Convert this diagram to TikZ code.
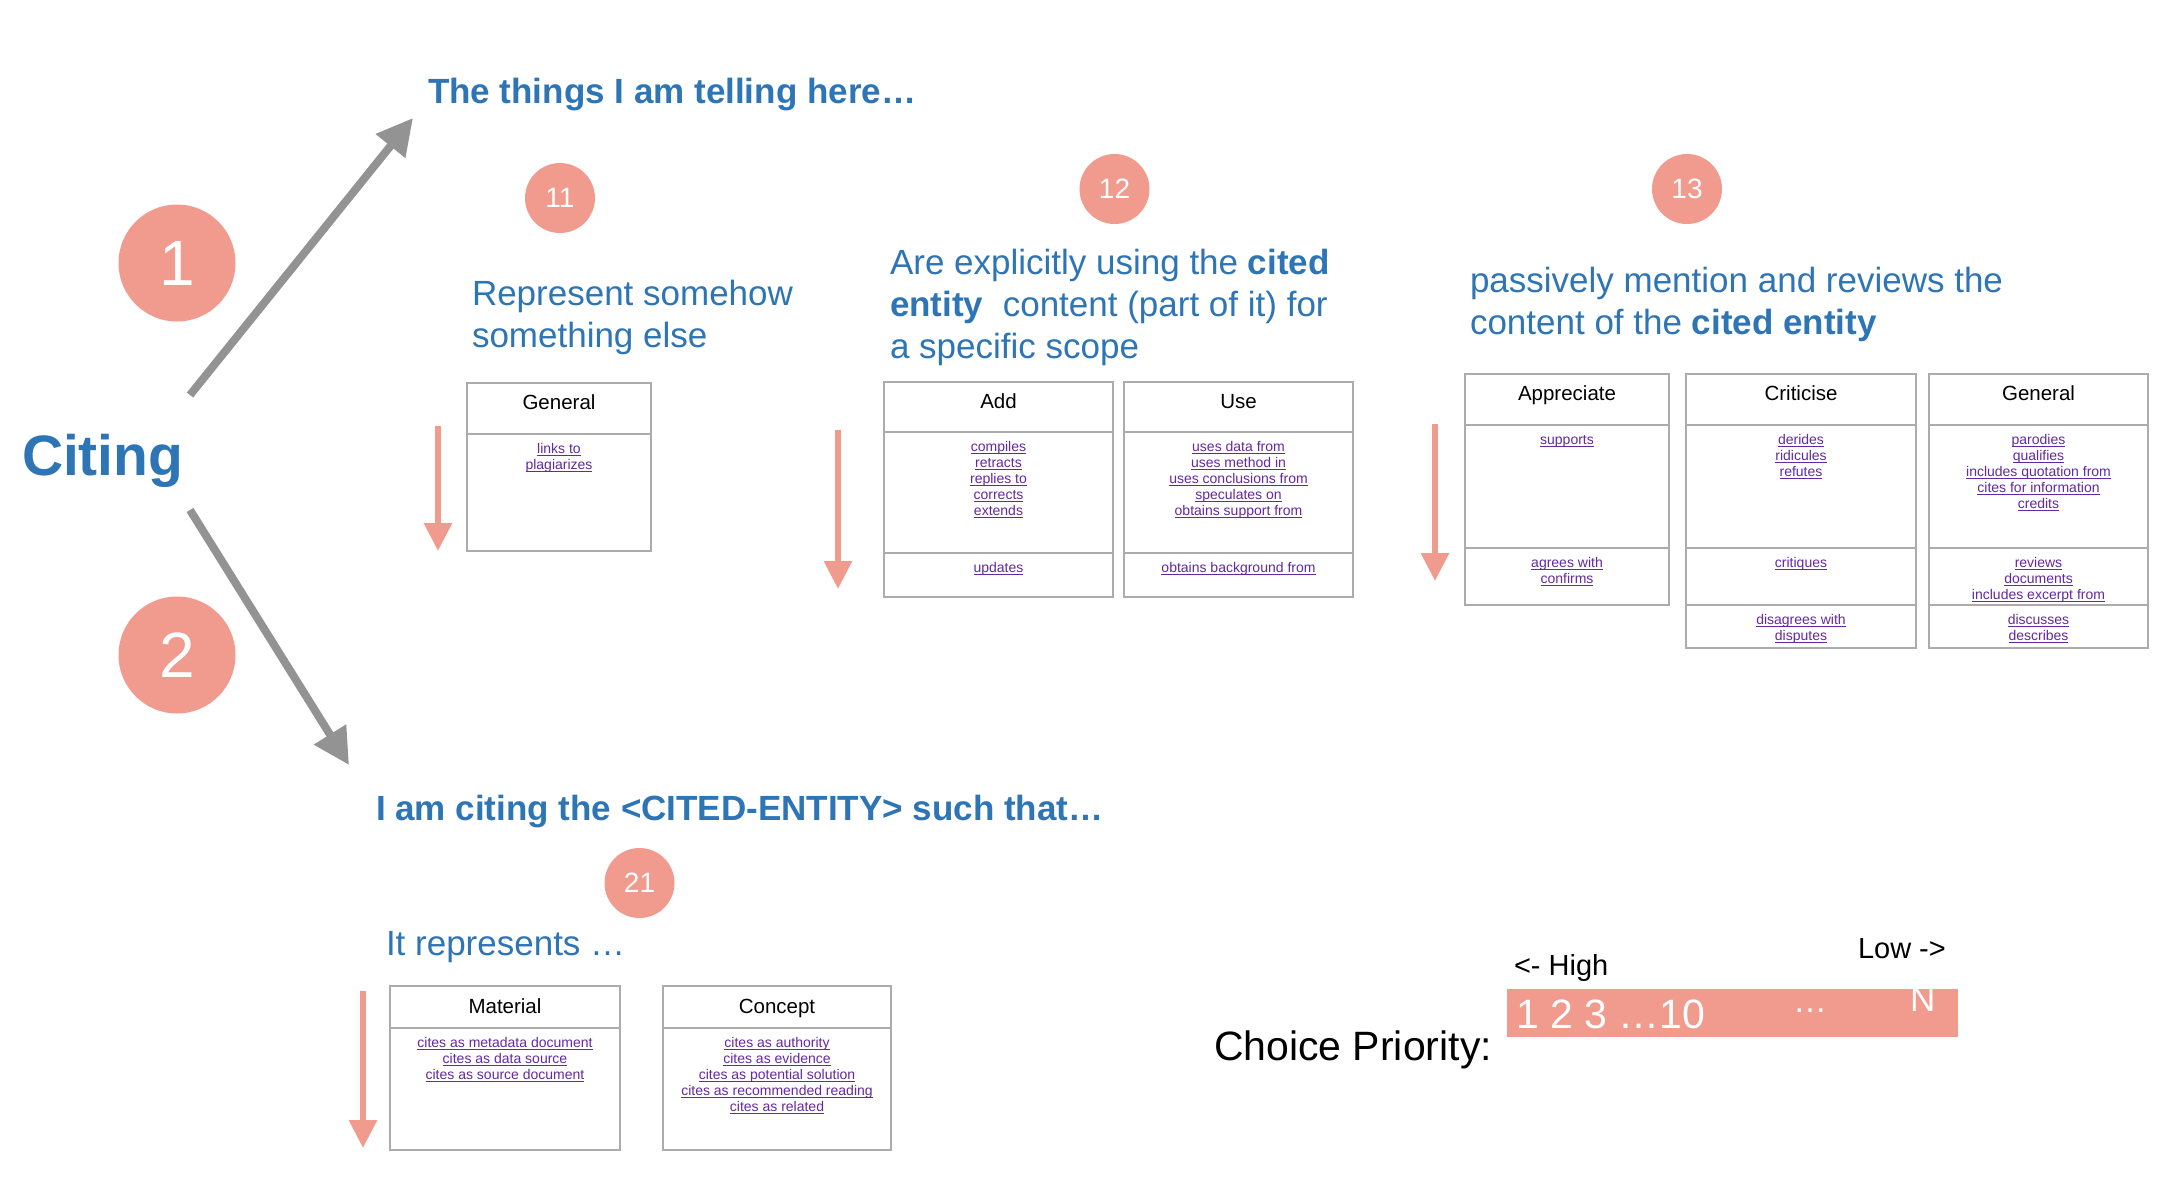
\documentclass[tikz,border=0pt]{standalone}
\usepackage{fontspec}
\setmainfont{Liberation Sans}
\usetikzlibrary{arrows.meta}
\definecolor{cblue}{RGB}{46,117,182}
\definecolor{cpink}{RGB}{241,155,143}
\definecolor{cgray}{RGB}{147,147,147}
\definecolor{clink}{RGB}{100,40,160}
\definecolor{cborder}{RGB}{172,172,172}
\newcommand{\fs}[2]{\fontsize{#1}{#2}\selectfont}
\newcommand{\lk}[1]{\strut\setbox0\hbox{#1}\rlap{\rule[-2.2pt]{\wd0}{0.9pt}}\box0}
\begin{document}
\begin{tikzpicture}[x=1pt,y=-1pt,
  every node/.style={inner sep=0pt, outer sep=0pt},
  headtxt/.style={anchor=base west, text=cblue, font=\fs{35}{42}\bfseries},
  bodytxt/.style={anchor=north west, text=cblue, font=\fs{35}{42}, align=left},
  bigcirc/.style={circle, fill=cpink, minimum size=117pt, text=white, font=\fs{64}{70}},
  smallcirc/.style={circle, fill=cpink, minimum size=70pt, text=white, font=\fs{28}{30}},
  cell/.style={draw=cborder, line width=1.1pt, anchor=north west},
  hdr/.style={anchor=base, font=\fs{20.5}{24}},
  lnk/.style={anchor=north, align=center, text=clink, font=\fs{14}{16}},
  grayarrow/.style={draw=cgray, line width=8pt, -{Triangle[length=36pt,width=36pt]}},
  redarrow/.style={draw=cpink, line width=6pt, -{Triangle[length=28pt,width=27pt]}},
  plain/.style={anchor=base west, font=\fs{29}{34}}
]
\fill[white] (0,0) rectangle (2180,1188);
\useasboundingbox (0,0) rectangle (2180,1188);

% left part
\node[anchor=base west, text=cblue, font=\fs{57}{64}\bfseries] (citing) at (22,475) {Citing};
\node[bigcirc] (c1) at (177,263) {1};
\node[bigcirc] (c2) at (177,655) {2};
\coordinate (s1) at (190,395);
\coordinate (e1) at (413,118);
\coordinate (s2) at (190,510);
\coordinate (e2) at (349,765);
\draw[grayarrow] (s1) -- (e1);
\draw[grayarrow] (s2) -- (e2);

% headings
\node[headtxt] (things) at (428,104) {The things I am telling here…};
\node[headtxt] (iam) at (376,820) {I am citing the <CITED-ENTITY> such that…};

% circles
\node[smallcirc] (c11) at (560,198) {11};
\node[smallcirc] (c12) at (1114.5,189) {12};
\node[smallcirc] (c13) at (1687,189) {13};
\node[smallcirc] (c21) at (639.5,883) {21};

% body texts
\node[bodytxt] (t11) at (472,276.3) {\strut Represent somehow\\something else};
\node[bodytxt] (t12) at (890,244.6) {\strut Are explicitly using the \textbf{cited}\\\textbf{entity}\ \ content (part of it) for\\a specific scope};
\node[bodytxt] (t13) at (1470,262.6) {\strut passively mention and reviews the\\content of the \textbf{cited entity}};
\node[bodytxt] (t21) at (386,926.3) {\strut It represents …};

% red arrows
\coordinate (r11s) at (438,426); \coordinate (r11e) at (438,551);
\coordinate (r12s) at (838,430); \coordinate (r12e) at (838,589);
\coordinate (r13s) at (1435,424); \coordinate (r13e) at (1435,581);
\coordinate (r21s) at (363,991); \coordinate (r21e) at (363,1148);
\draw[redarrow] (r11s) -- (r11e);
\draw[redarrow] (r12s) -- (r12e);
\draw[redarrow] (r13s) -- (r13e);
\draw[redarrow] (r21s) -- (r21e);

% table 11: General
\node[cell, minimum width=184pt, minimum height=51pt] (g11a) at (467,383) {};
\node[cell, minimum width=184pt, minimum height=117pt] (g11b) at (467,434) {};
\node[hdr] (g11h) at ([yshift=-26.5pt]g11a.north) {General};
\node[lnk] (g11l) at ([yshift=-8pt]g11b.north) {\lk{links to}\\\lk{plagiarizes}};

% table 12: Add / Use
\node[cell, minimum width=229pt, minimum height=50pt] (adda) at (884,382) {};
\node[cell, minimum width=229pt, minimum height=121pt] (addb) at (884,432) {};
\node[cell, minimum width=229pt, minimum height=44pt] (addc) at (884,553) {};
\node[hdr] (addh) at ([yshift=-26.5pt]adda.north) {Add};
\node[lnk] (addl) at ([yshift=-8pt]addb.north) {\lk{compiles}\\\lk{retracts}\\\lk{replies to}\\\lk{corrects}\\\lk{extends}};
\node[lnk] (addm) at ([yshift=-8pt]addc.north) {\lk{updates}};

\node[cell, minimum width=229pt, minimum height=50pt] (usea) at (1124,382) {};
\node[cell, minimum width=229pt, minimum height=121pt] (useb) at (1124,432) {};
\node[cell, minimum width=229pt, minimum height=44pt] (usec) at (1124,553) {};
\node[hdr] (useh) at ([yshift=-26.5pt]usea.north) {Use};
\node[lnk] (usel) at ([yshift=-8pt]useb.north) {\lk{uses data from}\\\lk{uses method in}\\\lk{uses conclusions from}\\\lk{speculates on}\\\lk{obtains support from}};
\node[lnk] (usem) at ([yshift=-8pt]usec.north) {\lk{obtains background from}};

% table 13: Appreciate / Criticise / General
\node[cell, minimum width=204pt, minimum height=51pt] (appa) at (1465,374) {};
\node[cell, minimum width=204pt, minimum height=123pt] (appb) at (1465,425) {};
\node[cell, minimum width=204pt, minimum height=57pt] (appc) at (1465,548) {};
\node[hdr] (apph) at ([yshift=-26.5pt]appa.north) {Appreciate};
\node[lnk] (appl) at ([yshift=-8pt]appb.north) {\lk{supports}};
\node[lnk] (appm) at ([yshift=-8pt]appc.north) {\lk{agrees with}\\\lk{confirms}};

\node[cell, minimum width=230pt, minimum height=51pt] (cria) at (1686,374) {};
\node[cell, minimum width=230pt, minimum height=123pt] (crib) at (1686,425) {};
\node[cell, minimum width=230pt, minimum height=57pt] (cric) at (1686,548) {};
\node[cell, minimum width=230pt, minimum height=43pt] (crid) at (1686,605) {};
\node[hdr] (crih) at ([yshift=-26.5pt]cria.north) {Criticise};
\node[lnk] (cril) at ([yshift=-8pt]crib.north) {\lk{derides}\\\lk{ridicules}\\\lk{refutes}};
\node[lnk] (crim) at ([yshift=-8pt]cric.north) {\lk{critiques}};
\node[lnk] (crin) at ([yshift=-8pt]crid.north) {\lk{disagrees with}\\\lk{disputes}};

\node[cell, minimum width=219pt, minimum height=51pt] (gena) at (1929,374) {};
\node[cell, minimum width=219pt, minimum height=123pt] (genb) at (1929,425) {};
\node[cell, minimum width=219pt, minimum height=57pt] (genc) at (1929,548) {};
\node[cell, minimum width=219pt, minimum height=43pt] (gend) at (1929,605) {};
\node[hdr] (genh) at ([yshift=-26.5pt]gena.north) {General};
\node[lnk] (genl) at ([yshift=-8pt]genb.north) {\lk{parodies}\\\lk{qualifies}\\\lk{includes quotation from}\\\lk{cites for information}\\\lk{credits}};
\node[lnk] (genm) at ([yshift=-8pt]genc.north) {\lk{reviews}\\\lk{documents}\\\lk{includes excerpt from}};
\node[lnk] (genn) at ([yshift=-8pt]gend.north) {\lk{discusses}\\\lk{describes}};

% table 21: Material / Concept
\node[cell, minimum width=230pt, minimum height=42pt] (mata) at (390,986) {};
\node[cell, minimum width=230pt, minimum height=122pt] (matb) at (390,1028) {};
\node[hdr] (math) at ([yshift=-27pt]mata.north) {Material};
\node[lnk] (matl) at ([yshift=-8pt]matb.north) {\lk{cites as metadata document}\\\lk{cites as data source}\\\lk{cites as source document}};

\node[cell, minimum width=228pt, minimum height=42pt] (cona) at (663,986) {};
\node[cell, minimum width=228pt, minimum height=122pt] (conb) at (663,1028) {};
\node[hdr] (conh) at ([yshift=-27pt]cona.north) {Concept};
\node[lnk] (conl) at ([yshift=-8pt]conb.north) {\lk{cites as authority}\\\lk{cites as evidence}\\\lk{cites as potential solution}\\\lk{cites as recommended reading}\\\lk{cites as related}};

% choice priority
\node[anchor=base west, font=\fs{41}{46}] (choice) at (1214,1060) {Choice Priority:};
\node[fill=cpink, anchor=north west, minimum width=451pt, minimum height=48pt] (bar) at (1507,989) {};
\node[anchor=base west, text=white, font=\fs{41}{46}] (nums) at (1516,1028) {1 2 3 …10};
\node[anchor=base west, text=white, font=\fs{34}{40}] (dots) at (1793,1012) {…};
\node[anchor=base west, text=white, font=\fs{35}{40}] (nn) at (1910,1011) {N};
\node[plain] (high) at (1514,975) {<- High};
\node[plain] (low) at (1858,958) {Low ->};
\end{tikzpicture}
\end{document}
